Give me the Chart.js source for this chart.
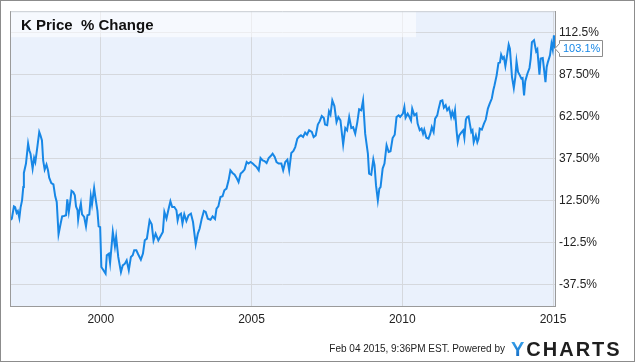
<!DOCTYPE html>
<html>
<head>
<meta charset="utf-8">
<script src="https://cdn.jsdelivr.net/npm/chart.js@4.4.1/dist/chart.umd.min.js"></script>
<style>
  html, body { margin: 0; padding: 0; background: #ffffff; }
  #wrap { position: relative; width: 635px; height: 362px; }
  canvas { display: block; }
</style>
</head>
<body>
<div id="wrap"><canvas id="c" width="635" height="362"></canvas></div>
<script>
// ---------------- data ----------------
const chartTitle = 'K Price  % Change';
const footerText = 'Feb 04 2015, 9:36PM EST. Powered by';
const logoFirst = 'Y';
const logoRest = 'CHARTS';

const xTickValues = [2000, 2005, 2010, 2015];
const yTickValues = [-37.5, -12.5, 12.5, 37.5, 62.5, 87.5, 112.5];
const yTickLabels = ['-37.5%', '-12.5%', '12.50%', '37.50%', '62.50%', '87.50%', '112.5%'];

const dates1997 = [1996.99,1997.05,1997.12,1997.16,1997.21,1997.25,1997.30,1997.34,1997.39,1997.43,1997.45,1997.52,1997.59,1997.63,1997.67,1997.74,1997.79,1997.83,1997.89,1997.96,1998.00,1998.05,1998.09,1998.14,1998.20,1998.25,1998.29,1998.36,1998.43,1998.49,1998.54,1998.60,1998.67,1998.72,1998.78,1998.85,1998.89,1998.94,1998.98,1999.03,1999.09,1999.14,1999.18,1999.23,1999.25,1999.29,1999.34,1999.38,1999.45,1999.51,1999.56,1999.62,1999.67,1999.71,1999.78,1999.82,1999.89,1999.93,1999.98];
const pct1997 = [0.7,1.7,9.0,8.5,5.1,6.2,2.1,8.3,12.6,20.5,28.9,34.5,46.4,42.4,40.4,31.5,37.8,35.4,43.4,53.3,51.3,48.3,36.4,30.9,33.9,30.5,26.1,22.9,22.1,15.0,11.6,-7.6,-1.2,3.1,3.3,3.7,13.2,5.7,10.7,18.2,17.4,15.6,9.0,6.7,1.1,6.3,10.7,4.3,2.7,-2.9,3.7,4.1,15.0,10.2,19.9,14.6,6.3,-2.9,-3.3];

const dates2000 = [2000.02,2000.09,2000.16,2000.20,2000.27,2000.31,2000.40,2000.47,2000.51,2000.58,2000.67,2000.73,2000.80,2000.86,2000.93,2001.00,2001.06,2001.11,2001.18,2001.24,2001.33,2001.40,2001.46,2001.53,2001.62,2001.69,2001.75,2001.82,2001.91,2002.00,2002.06,2002.11,2002.18,2002.24,2002.31,2002.37,2002.44,2002.51,2002.55,2002.59,2002.66,2002.71,2002.77,2002.84,2002.91,2002.99,2003.06,2003.15,2003.22,2003.28,2003.35,2003.42,2003.48,2003.55,2003.64,2003.71,2003.79,2003.84,2003.90,2003.97];
const pct2000 = [-27.1,-29.0,-31.0,-20.1,-19.1,-24.7,-6.2,-14.8,-9.2,-21.1,-30.1,-26.1,-25.1,-23.1,-29.0,-21.1,-20.1,-17.1,-17.1,-19.5,-22.7,-19.1,-11.2,-10.2,0.7,-1.7,-11.2,-7.2,-11.2,-8.2,-6.2,5.7,1.7,6.7,12.0,8.6,8.6,6.7,0.7,3.7,4.7,-1.2,4.3,0.3,3.7,4.7,-0.3,-13.6,-7.2,-4.2,1.7,6.3,5.7,1.7,1.1,3.1,1.5,7.7,9.0,14.6];

const dates2004 = [2004.04,2004.10,2004.17,2004.24,2004.30,2004.37,2004.44,2004.50,2004.57,2004.64,2004.70,2004.77,2004.84,2004.90,2004.97,2005.04,2005.10,2005.17,2005.24,2005.30,2005.37,2005.43,2005.50,2005.57,2005.63,2005.70,2005.77,2005.83,2005.90,2005.99,2006.05,2006.12,2006.19,2006.25,2006.32,2006.39,2006.45,2006.52,2006.59];
const pct2004 = [15.0,18.6,19.6,24.5,30.5,28.9,27.9,26.1,23.5,28.5,29.5,30.9,35.4,34.5,35.4,34.5,33.5,32.4,30.5,37.8,36.4,36.0,34.8,37.8,38.8,40.4,38.4,35.4,34.5,34.5,30.5,35.4,36.8,30.5,40.8,42.0,44.3,49.3,50.7];

const dates2006 = [2006.64,2006.71,2006.78,2006.84,2006.91,2007.00,2007.06,2007.13,2007.20,2007.26,2007.33,2007.40,2007.44,2007.51,2007.57,2007.62,2007.68,2007.75,2007.82,2007.88,2007.95,2008.04,2008.11,2008.17,2008.24,2008.31,2008.37,2008.44,2008.51,2008.57,2008.64,2008.70,2008.77,2008.81,2008.86,2008.90,2008.97,2009.04,2009.08,2009.13,2009.19,2009.24,2009.28,2009.35,2009.41,2009.48,2009.55,2009.61,2009.68,2009.75,2009.81,2009.88];
const pct2006 = [51.3,50.3,52.9,51.7,54.3,53.3,50.3,51.3,57.7,59.6,62.8,61.6,57.7,57.3,65.6,63.6,72.1,68.7,59.2,62.2,60.2,45.8,55.7,54.3,62.2,55.7,56.2,52.3,59.2,66.8,66.2,72.1,52.3,47.0,40.4,28.5,27.9,37.0,33.5,21.5,12.6,19.6,20.5,31.5,34.5,45.4,41.4,41.8,49.7,51.7,62.2,63.2];

const dates2010 = [2009.93,2010.02,2010.07,2010.11,2010.18,2010.24,2010.29,2010.33,2010.40,2010.47,2010.51,2010.58,2010.64,2010.69,2010.73,2010.80,2010.87,2010.93,2010.98,2011.04,2011.09,2011.16,2011.20,2011.27,2011.33,2011.38,2011.44,2011.49,2011.55,2011.62,2011.66,2011.71,2011.75,2011.80,2011.84,2011.89,2011.95,2012.02,2012.06,2012.11,2012.15,2012.20,2012.24,2012.29,2012.33,2012.37,2012.44,2012.49,2012.53,2012.57,2012.64,2012.71,2012.77,2012.84,2012.90,2012.97];
const pct2010 = [62.2,64.2,68.2,61.8,64.2,62.2,60.2,67.2,63.2,64.2,58.3,54.3,55.3,52.3,54.7,49.9,49.3,52.3,56.2,53.3,61.2,63.2,66.6,71.7,72.1,67.8,69.2,66.2,67.8,62.2,65.2,62.2,66.2,54.3,47.3,51.3,52.7,54.3,49.9,60.7,62.2,62.6,58.3,53.3,54.3,47.3,51.3,47.3,49.3,55.3,54.7,58.3,60.7,67.2,70.2,73.2];

const dates2013 = [2013.02,2013.06,2013.13,2013.19,2013.24,2013.28,2013.33,2013.37,2013.42,2013.46,2013.53,2013.57,2013.64,2013.70,2013.75,2013.79,2013.84,2013.90,2013.95,2013.99,2014.04,2014.08,2014.15,2014.22,2014.26,2014.30,2014.37,2014.44,2014.48,2014.55,2014.59,2014.66,2014.70,2014.75,2014.79,2014.83,2014.90,2014.95,2014.99,2015.03,2015.07];
const pct2013 = [78.1,81.1,87.0,94.3,94.6,99.3,97.0,97.9,92.5,97.0,105.3,102.9,86.0,79.5,86.0,95.4,89.0,87.0,85.1,85.4,75.1,83.5,88.0,91.4,97.0,106.8,107.9,101.3,102.5,87.4,97.0,97.3,91.0,83.0,92.0,94.9,98.9,105.9,102.5,110.8,103.1];

// ---------------- build series ----------------
const allDates = [].concat(dates1997, dates2000, dates2004, dates2006, dates2010, dates2013);
const allPct = [].concat(pct1997, pct2000, pct2004, pct2006, pct2010, pct2013);
const n = Math.min(allDates.length, allPct.length);
const points = [];
for (let i = 0; i < n; i++) points.push({ x: allDates[i], y: allPct[i] });
const lastValue = allPct[n - 1];

const FONT = '"Liberation Sans", Arial, Helvetica, sans-serif';
const LINE_BLUE = '#1787e6';
const PLOT_BG = '#eaf1fc';
const GRID = '#d5d8dd';
const FRAME = '#9a9a9a';

const framePlugin = {
  id: 'ychartsFrame',
  beforeDraw(chart) {
    const { ctx, chartArea: a } = chart;
    ctx.save();
    ctx.fillStyle = '#ffffff';
    ctx.fillRect(0, 0, chart.width, chart.height);
    ctx.fillStyle = PLOT_BG;
    ctx.fillRect(a.left, a.top, a.right - a.left, a.bottom - a.top);
    ctx.restore();
  },
  beforeDatasetsDraw(chart) {
    const { ctx, chartArea: a } = chart;
    ctx.save();
    ctx.fillStyle = 'rgba(255,255,255,0.55)';
    ctx.fillRect(a.left, a.top, 406, 26);
    ctx.fillStyle = '#111111';
    ctx.font = 'bold 15px ' + FONT;
    ctx.textBaseline = 'alphabetic';
    ctx.textAlign = 'left';
    ctx.fillText(chartTitle, a.left + 11, a.top + 19);
    ctx.restore();
  },
  afterDraw(chart) {
    const { ctx, chartArea: a } = chart;
    ctx.save();
    ctx.strokeStyle = '#c9cdd2';
    ctx.lineWidth = 1;
    ctx.beginPath();
    ctx.moveTo(a.left, a.top + 0.5);
    ctx.lineTo(a.right, a.top + 0.5);
    ctx.stroke();
    ctx.strokeStyle = FRAME;
    ctx.beginPath();
    ctx.moveTo(a.left + 0.5, a.top);
    ctx.lineTo(a.left + 0.5, a.bottom);
    ctx.stroke();

    ctx.strokeStyle = '#8c8c8c';
    ctx.strokeRect(0.5, 0.5, chart.width - 1, chart.height - 1);

    // last value flag
    const yv = Math.round(chart.scales.y.getPixelForValue(lastValue)) + 0.5;
    const bx = a.right + 4.5, bw = 43, bh = 16;
    ctx.fillStyle = '#ffffff';
    ctx.strokeStyle = '#8c8c8c';
    ctx.beginPath();
    ctx.moveTo(bx, yv - bh / 2);
    ctx.lineTo(bx + bw, yv - bh / 2);
    ctx.lineTo(bx + bw, yv + bh / 2);
    ctx.lineTo(bx, yv + bh / 2);
    ctx.lineTo(bx, yv + 5);
    ctx.lineTo(bx - 4.5, yv);
    ctx.lineTo(bx, yv - 5);
    ctx.closePath();
    ctx.fill();
    ctx.stroke();
    ctx.fillStyle = LINE_BLUE;
    ctx.font = '11px ' + FONT;
    ctx.textAlign = 'left';
    ctx.textBaseline = 'middle';
    ctx.fillText(lastValue.toFixed(1) + '%', bx + 3.5, yv + 0.5);

    // footer
    ctx.fillStyle = '#222222';
    ctx.font = '10px ' + FONT;
    ctx.textAlign = 'right';
    ctx.textBaseline = 'alphabetic';
    ctx.fillText(footerText, 505, 352);

    ctx.font = 'bold 20px ' + FONT;
    ctx.textAlign = 'left';
    try { ctx.letterSpacing = '2px'; } catch (e) {}
    const g = ctx.createLinearGradient(0, 340, 0, 356);
    g.addColorStop(0, '#3aa6ee');
    g.addColorStop(1, '#1670c8');
    ctx.fillStyle = g;
    ctx.fillText(logoFirst, 511, 356);
    const wY = ctx.measureText(logoFirst).width;
    ctx.fillStyle = '#1e1e1e';
    ctx.fillText(logoRest, 511 + wY, 356);
    ctx.restore();
  }
};

new Chart(document.getElementById('c'), {
  type: 'line',
  data: {
    datasets: [{
      label: chartTitle,
      data: points,
      borderColor: LINE_BLUE,
      borderWidth: 2,
      pointRadius: 0,
      pointHoverRadius: 0,
      tension: 0,
      fill: false
    }]
  },
  options: {
    responsive: false,
    animation: false,
    devicePixelRatio: 1,
    layout: { padding: { left: 10, top: 10, right: 0, bottom: 0 } },
    plugins: { legend: { display: false }, tooltip: { enabled: false }, title: { display: false } },
    scales: {
      x: {
        type: 'linear',
        min: 1996.99,
        max: 2015.066,
        afterBuildTicks(axis) { axis.ticks = xTickValues.map(v => ({ value: v })); },
        afterFit(axis) { axis.height = 56; },
        grid: { color: GRID, lineWidth: 1, drawTicks: false },
        border: { display: true, color: FRAME, width: 1 },
        ticks: {
          autoSkip: false, maxRotation: 0, padding: 6,
          color: '#222222', font: { family: FONT, size: 12 },
          callback: (v) => String(v)
        }
      },
      y: {
        type: 'linear',
        position: 'right',
        min: -50.3,
        max: 125.2,
        afterBuildTicks(axis) { axis.ticks = yTickValues.map(v => ({ value: v })); },
        afterFit(axis) { axis.width = 80; },
        grid: { color: GRID, lineWidth: 1, drawTicks: false },
        border: { display: true, color: FRAME, width: 1 },
        ticks: {
          autoSkip: false, padding: 4,
          color: '#222222', font: { family: FONT, size: 12 },
          callback: (v, i) => yTickLabels[i]
        }
      }
    }
  },
  plugins: [framePlugin]
});
</script>
</body>
</html>
